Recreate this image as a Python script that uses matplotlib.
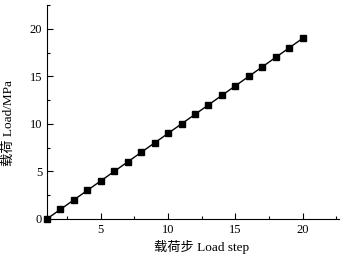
import matplotlib.pyplot as plt
from matplotlib.ticker import MultipleLocator

plt.rcParams['font.family'] = ['Liberation Serif', 'Noto Sans CJK SC']

steps = list(range(1, 21))
loads = [0, 1, 2, 3, 4, 5, 6, 7, 8, 9, 10, 11, 12, 13, 14, 15, 16, 17, 18, 19]

fig = plt.figure(figsize=(3.48, 2.56), dpi=100)
ax = fig.add_axes([0.135, 0.145, 0.839, 0.835])

ax.plot(steps, loads, '-s', color='black', lw=1, ms=4.2, clip_on=False, zorder=5)

ax.set_xlim(1, 22.7)
ax.set_ylim(0, 22.5)
ax.xaxis.set_major_locator(MultipleLocator(5))
ax.xaxis.set_minor_locator(MultipleLocator(2.5))
ax.yaxis.set_major_locator(MultipleLocator(5))
ax.yaxis.set_minor_locator(MultipleLocator(2.5))
ax.tick_params(which='both', direction='in', labelsize=9, width=0.8)
ax.tick_params(which='major', length=4)
ax.tick_params(which='minor', length=2.5)
ax.spines['top'].set_visible(False)
ax.spines['right'].set_visible(False)

ax.set_xlabel('载荷步 Load step', fontsize=9.5)
ax.set_ylabel('载荷 Load/MPa', fontsize=9.5)
ax.xaxis.set_label_coords(0.53, -0.1)
ax.yaxis.set_label_coords(-0.11, 0.45)

fig.savefig('out.png', dpi=100)
